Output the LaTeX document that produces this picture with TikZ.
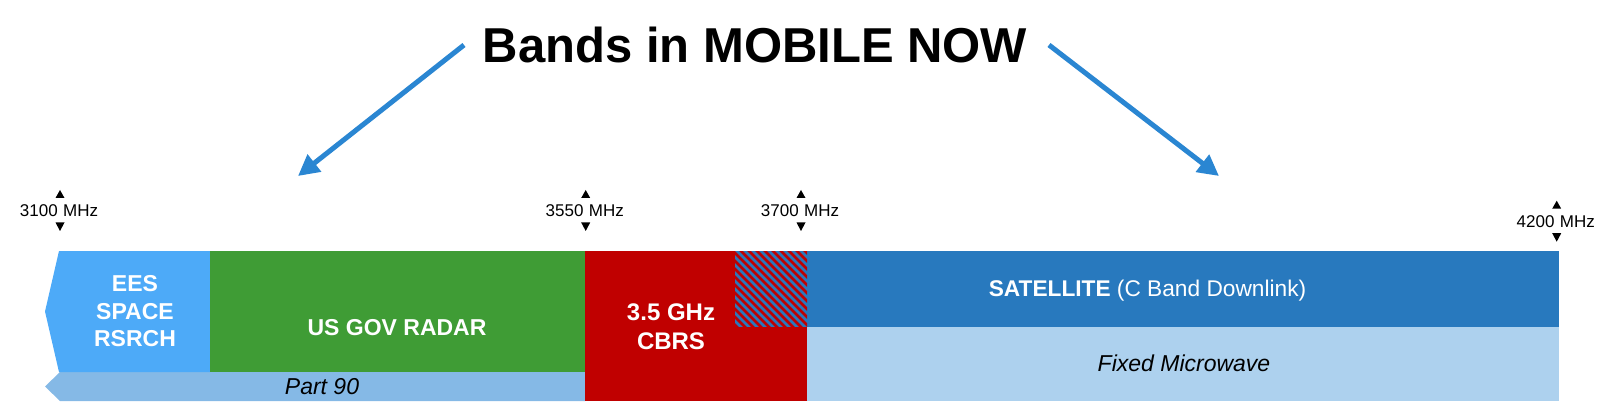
\documentclass[tikz,border=0pt]{standalone}
\usepackage{fontspec}
\setmainfont{Liberation Sans}
\usetikzlibrary{arrows.meta}
\definecolor{eesblue}{RGB}{77,170,248}
\definecolor{radargreen}{RGB}{63,156,53}
\definecolor{cbrsred}{RGB}{192,0,0}
\definecolor{satblue}{RGB}{40,121,190}
\definecolor{fixedblue}{RGB}{173,209,238}
\definecolor{partblue}{RGB}{133,185,230}
\definecolor{arrowblue}{RGB}{42,134,210}
\begin{document}
\begin{tikzpicture}[x=1pt,y=-1pt,
  bandlabel/.style={inner sep=0pt,text=white,font=\fontsize{23}{27.5}\selectfont\bfseries},
  italiclabel/.style={inner sep=0pt,text=black,font=\fontsize{23}{27.5}\selectfont\itshape},
  freqlabel/.style={inner sep=0pt,text=black,font=\fontsize{17}{20}\selectfont},
  bigarrow/.style={arrowblue,line width=5pt,-{Triangle[length=21pt,width=21pt]}},
  tri/.style={fill=black}]
\useasboundingbox (0,0) rectangle (1614,414);
% title
\node[inner sep=0pt,anchor=base,font=\fontsize{49}{55}\selectfont\bfseries] (title) at (755,63) {Bands in MOBILE NOW};
\coordinate (lstart) at (464,45);
\coordinate (lend) at (298,176);
\coordinate (rstart) at (1049,45);
\coordinate (rend) at (1219,176);
\draw[bigarrow] (lstart) -- (lend);
\draw[bigarrow] (rstart) -- (rend);
% bands
\fill[partblue] (60,372) -- (585,372) -- (585,401) -- (60,401) -- (45,386.5) -- cycle;
\fill[eesblue] (59,251) -- (210,251) -- (210,372) -- (59,372) -- (45,311.5) -- cycle;
\fill[radargreen] (210,251) rectangle (585,372);
\fill[cbrsred] (585,251) rectangle (807,401);
\fill[satblue] (807,251) rectangle (1559,327);
\fill[fixedblue] (807,327) rectangle (1559,401);
% hatched
\begin{scope}
\clip (735,251) rectangle (807,327);
\fill[satblue] (735,251) rectangle (807,327);
\foreach \k in {-88,-80,...,80}{
  \draw[cbrsred,line width=2.8pt] (735+\k,245) -- (735+\k+90,335);
}
\end{scope}
% labels
\node[bandlabel,align=center,anchor=center] (ees) at (135,311.5) {EES\\SPACE\\RSRCH};
\node[bandlabel,anchor=base] (radar) at (397,335) {US GOV RADAR};
\node[bandlabel,align=center,anchor=center,font=\fontsize{24}{29}\selectfont\bfseries] (cbrs) at (671,327) {3.5 GHz\\CBRS};
\node[bandlabel,anchor=base,font=\fontsize{22.7}{27}\selectfont] (sat) at (1147.5,296.7) {\textbf{SATELLITE} (C Band Downlink)};
\node[italiclabel,anchor=base] (fixed) at (1184,371) {Fixed Microwave};
\node[italiclabel,anchor=base] (part) at (322,394) {Part 90};
% frequency markers
\foreach \x/\t/\f in {60/190/3100, 585.7/190/3550, 801/190/3700, 1556.7/200.7/4200}{
  \coordinate (mk\f) at (\x,\t);
  \fill[tri] (\x-4.5,\t+8) -- (\x+4.5,\t+8) -- (\x,\t) -- cycle;
  \fill[tri] (\x-4.5,\t+32.5) -- (\x+4.5,\t+32.5) -- (\x,\t+41) -- cycle;
  \node[freqlabel,anchor=base east] (num\f) at (\x-2,\t+27) {\f};
  \node[freqlabel,anchor=base west] (mhz\f) at (\x+3,\t+27) {MHz};
}
\end{tikzpicture}
\end{document}
